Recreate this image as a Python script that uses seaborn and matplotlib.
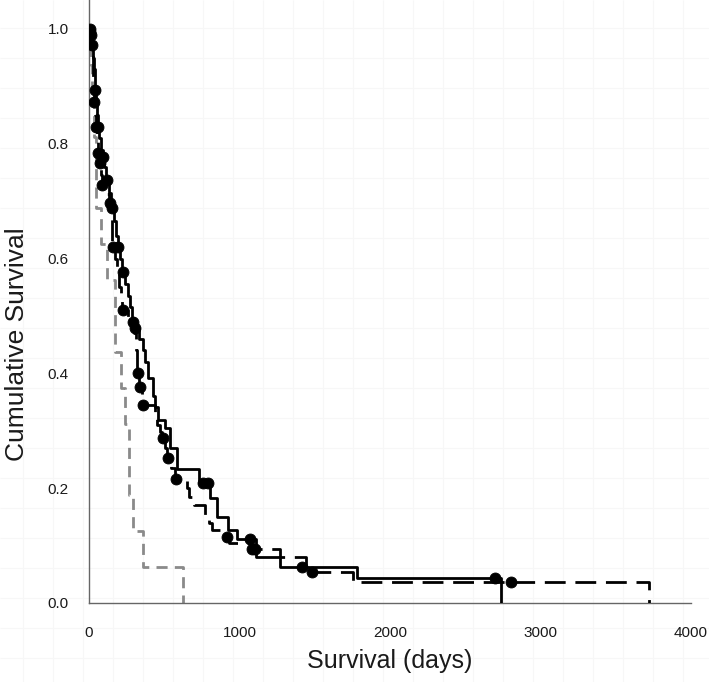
import numpy as np
import matplotlib
matplotlib.use("Agg")
import matplotlib.pyplot as plt
import seaborn as sns

# --- data (Kaplan-Meier style steps) ---
# solid black curve: day of each drop and survival after it
solid_days = [0, 10, 17, 25, 30, 38, 45, 52, 57, 66, 80, 90, 100, 113, 130, 146, 166, 180, 190, 206,
              220, 240, 259, 272, 286, 300, 330, 359, 372, 392, 425, 438, 459, 505, 538, 585, 731, 804,
              851, 924, 983, 1110, 1269, 1781, 2738]
solid_surv = [1.0, 0.99, 0.972, 0.95, 0.93, 0.894, 0.873, 0.85, 0.829, 0.81, 0.79, 0.777, 0.76, 0.737,
              0.715, 0.688, 0.665, 0.64, 0.62, 0.60, 0.577, 0.556, 0.535, 0.515, 0.497, 0.479, 0.46,
              0.441, 0.42, 0.392, 0.36, 0.341, 0.319, 0.305, 0.27, 0.233, 0.209, 0.183, 0.15, 0.127,
              0.111, 0.08, 0.063, 0.044, 0.0]
solid_censor = [5, 13, 20, 40, 60, 93, 120, 153, 193, 226, 306, 758, 791, 1070, 1415, 2698]

# dashed black curve
dash_days = [0, 5, 12, 18, 24, 28, 31, 33, 40, 45, 55, 58, 66, 78, 84, 100, 130, 145, 152, 156,
             170, 185, 200, 213, 222, 260, 300, 315, 322, 335, 352, 438, 455, 475, 488, 505, 520, 545,
             572, 651, 664, 698, 771, 800, 818, 900, 930, 1070, 1270, 1440, 1754, 3721]
dash_surv = [1.0, 0.995, 0.975, 0.955, 0.935, 0.91, 0.89, 0.873, 0.85, 0.829, 0.805, 0.784, 0.767,
             0.745, 0.728, 0.712, 0.697, 0.675, 0.65, 0.62, 0.60, 0.575, 0.55, 0.53, 0.51, 0.49, 0.47,
             0.44, 0.40, 0.376, 0.345, 0.33, 0.31, 0.298, 0.287, 0.27, 0.253, 0.235, 0.216, 0.20,
             0.185, 0.17, 0.15, 0.14, 0.127, 0.115, 0.105, 0.094, 0.08, 0.054, 0.037, 0.0]
dash_censor = [7, 36, 47, 60, 73, 86, 140, 160, 226, 292, 326, 339, 359, 492, 525, 578, 917, 1083,
               1103, 1482, 2804]

# dashed grey curve (small group, no censoring)
grey_days = [0, 10, 20, 35, 47, 80, 120, 173, 212, 239, 266, 292, 359, 625]
grey_surv = [1.0, 0.9375, 0.875, 0.8125, 0.6875, 0.625, 0.5625, 0.4375, 0.375, 0.3125, 0.1875,
             0.125, 0.0625, 0.0]

x_ticks = [0, 1000, 2000, 3000, 4000]
y_ticks = [0.0, 0.2, 0.4, 0.6, 0.8, 1.0]

# --- style ---
sns.set_theme(style="white")
plt.rcParams['font.family'] = ['Liberation Sans', 'DejaVu Sans']
axis_grey = '#666666'
text_col = '#1a1a1a'


def surv_at(days, surv, t):
    """value of the step curve at time t"""
    idx = np.searchsorted(days, t, side='right') - 1
    return np.asarray(surv)[idx]


fig = plt.figure(figsize=(7.09, 6.82), dpi=100)

# very faint paper grid behind everything
bg = fig.add_axes([0, 0, 1, 1], zorder=-1)
bg.set_xlim(0, 709)
bg.set_ylim(682, 0)
bg.vlines(np.arange(23, 709, 30), 0, 682, color='#f7f7f7', lw=0.8)
bg.hlines(np.arange(28, 682, 30), 0, 709, color='#f7f7f7', lw=0.8)
bg.axis('off')

ax = fig.add_axes([89 / 709, 79 / 682, 602 / 709, 603 / 682])
ax.patch.set_alpha(0)

sns.lineplot(x=grey_days, y=grey_surv, drawstyle='steps-post', estimator=None, sort=False,
             color='#8a8a8a', lw=2.0, linestyle=(0, (4, 2.6)), ax=ax, zorder=2)
sns.lineplot(x=dash_days, y=dash_surv, drawstyle='steps-post', estimator=None, sort=False,
             color='black', lw=2.0, linestyle=(0, (7.5, 3.5)), ax=ax, zorder=3)
sns.lineplot(x=solid_days, y=solid_surv, drawstyle='steps-post', estimator=None, sort=False,
             color='black', lw=2.0, ax=ax, zorder=4)

sns.scatterplot(x=solid_censor, y=surv_at(solid_days, solid_surv, solid_censor),
                color='black', edgecolor='black', s=62, ax=ax, zorder=5)
sns.scatterplot(x=dash_censor, y=surv_at(dash_days, dash_surv, dash_censor),
                color='black', edgecolor='black', s=62, ax=ax, zorder=5)

ax.set_xlim(0, 4000)
ax.set_ylim(0, 603 / 574)
ax.set_xticks(x_ticks)
ax.set_yticks(y_ticks)
ax.set_xticklabels([str(v) for v in x_ticks])
ax.set_yticklabels([f'{v:.1f}' for v in y_ticks])

for side in ['top', 'right']:
    ax.spines[side].set_visible(False)
for side in ['left', 'bottom']:
    ax.spines[side].set_color(axis_grey)
    ax.spines[side].set_linewidth(1.0)

ax.tick_params(axis='both', direction='out', length=8.5, width=1.0, color=axis_grey,
               labelsize=11, labelcolor=text_col)
ax.tick_params(axis='x', pad=8)
ax.tick_params(axis='y', pad=6)
ax.grid(False)

ax.set_xlabel('Survival (days)', fontsize=18, color=text_col)
ax.set_ylabel('Cumulative Survival', fontsize=19, color=text_col)
ax.xaxis.set_label_coords(0.5, -58 / 603)
ax.xaxis.label.set_va('center')
ax.yaxis.set_label_coords(-72 / 602, 0.43)
ax.yaxis.label.set_va('center')

fig.savefig('out.png', dpi=100)
